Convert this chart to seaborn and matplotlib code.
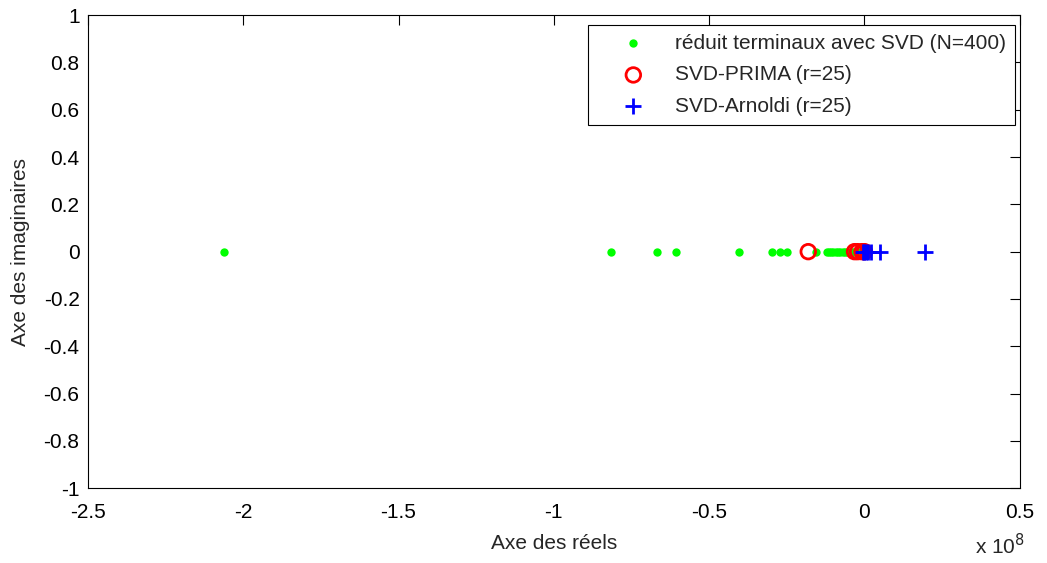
import matplotlib
matplotlib.use("Agg")
import matplotlib.pyplot as plt
import seaborn as sns
import pandas as pd

# Data (real parts in units of 1e8, imaginary parts)
green_re = [-2.062, -0.817, -0.668, -0.607, -0.405, -0.298, -0.272, -0.250, -0.155,
            -0.122, -0.115, -0.108, -0.100, -0.093, -0.085, -0.078, -0.070, -0.063,
            -0.055, -0.048, -0.040, -0.033, -0.026, -0.020, -0.012, -0.006, -0.002]
green_im = [0.0] * len(green_re)
red_re = [-0.181, -0.032, -0.022, -0.008, 0.0]
red_im = [0.0] * len(red_re)
blue_re = [-0.004, 0.0, 0.004, 0.012, 0.020, 0.049, 0.194]
blue_im = [0.0] * len(blue_re)

labels = ["réduit terminaux avec SVD (N=400)", "SVD-PRIMA (r=25)", "SVD-Arnoldi (r=25)"]
xticks = [-2.5, -2.0, -1.5, -1.0, -0.5, 0.0, 0.5]
xticklabels = ["-2.5", "-2", "-1.5", "-1", "-0.5", "0", "0.5"]
yticks = [-1.0, -0.8, -0.6, -0.4, -0.2, 0.0, 0.2, 0.4, 0.6, 0.8, 1.0]
yticklabels = ["-1", "-0.8", "-0.6", "-0.4", "-0.2", "0", "0.2", "0.4", "0.6", "0.8", "1"]

sns.set_style("white")
plt.rcParams["font.family"] = ["Liberation Sans", "DejaVu Sans"]
plt.rcParams["axes.unicode_minus"] = False

FS = 15

fig = plt.figure(figsize=(10.47, 5.63), dpi=100)
ax = fig.add_axes([0.084, 0.133, 0.890, 0.840])

g = pd.DataFrame({"re": green_re, "im": green_im})
r = pd.DataFrame({"re": red_re, "im": red_im})
b = pd.DataFrame({"re": blue_re, "im": blue_im})

sns.scatterplot(data=g, x="re", y="im", ax=ax, marker="o", color="#00ff00",
                s=36, linewidth=0, label=labels[0], zorder=2)
sns.scatterplot(data=r, x="re", y="im", ax=ax, marker="o", facecolors="none",
                edgecolor="red", s=110, linewidth=2, label=labels[1], zorder=3)
sns.scatterplot(data=b, x="re", y="im", ax=ax, marker="+", color="blue",
                s=130, linewidth=2, label=labels[2], zorder=4)

ax.set_xlim(-2.5, 0.5)
ax.set_ylim(-1, 1)
ax.set_xticks(xticks)
ax.set_xticklabels(xticklabels)
ax.set_yticks(yticks)
ax.set_yticklabels(yticklabels)
ax.tick_params(direction="in", length=7, width=0.8, top=True, right=True,
               labelsize=FS, colors="black")
ax.tick_params(axis="x", pad=11)
ax.tick_params(axis="y", pad=6)
for sp in ax.spines.values():
    sp.set_color("black")
    sp.set_linewidth(0.8)
ax.set_xlabel("Axe des réels", fontsize=FS, labelpad=8)
ax.set_ylabel("Axe des imaginaires", fontsize=FS, labelpad=10)

leg = ax.legend(loc="upper right", bbox_to_anchor=(0.9946, 0.9789), borderaxespad=0,
                fancybox=False, edgecolor="black", framealpha=1, fontsize=FS,
                handletextpad=0.25, borderpad=0.42, labelspacing=0.6, handlelength=3.5)
leg.get_frame().set_linewidth(0.8)

fig.text(0.955, 0.015, r"x 10$^{8}$", fontsize=FS, ha="center")

fig.savefig("out.png", dpi=100)
